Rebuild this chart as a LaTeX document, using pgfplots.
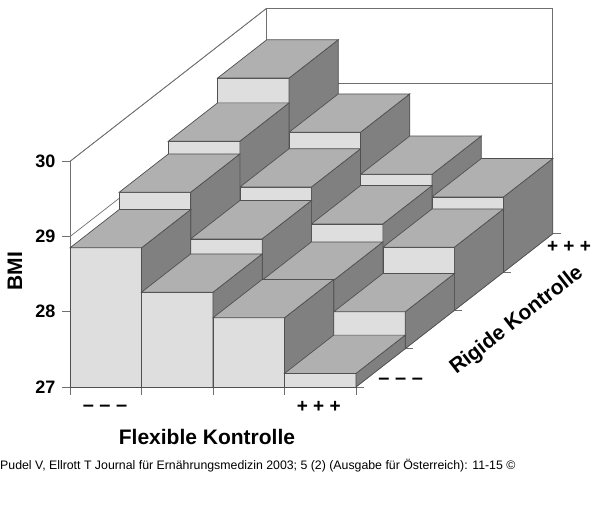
\documentclass[border=0pt]{standalone}
\usepackage{fontspec}
\setmainfont{Liberation Sans}
\usepackage{pgfplots}
\pgfplotsset{compat=1.18}

\definecolor{frontc}{HTML}{DEDEDE}
\definecolor{topc}{HTML}{B0B0B0}
\definecolor{sidec}{HTML}{808080}
\definecolor{edgec}{HTML}{505050}
\definecolor{wallc}{HTML}{707070}

% x0 x1 y0 y1 height
\newcommand{\stufe}[5]{%
  \addplot3[fill=frontc,draw=edgec,line width=0.7pt] coordinates {(#1,#3,27) (#2,#3,27) (#2,#3,#5) (#1,#3,#5)} --cycle;
  \addplot3[fill=sidec,draw=edgec,line width=0.7pt] coordinates {(#2,#3,27) (#2,#4,27) (#2,#4,#5) (#2,#3,#5)} --cycle;
  \addplot3[fill=topc,draw=edgec,line width=0.7pt] coordinates {(#1,#3,#5) (#2,#3,#5) (#2,#4,#5) (#1,#4,#5)} --cycle;
}
% the ticks of the reference are not slanted: they are drawn as short lines
\newcommand{\strich}[2]{\addplot3[wallc,line width=0.7pt] coordinates {#1 #2};}

\begin{document}
\begin{tikzpicture}
\begin{axis}[
    x={(71.5pt,0pt)}, y={(49.2pt,38.3pt)}, z={(0pt,75.2pt)},
    xmin=0, xmax=4, ymin=0, ymax=4, zmin=27, zmax=30,
    xtick={0,1,2,3,4}, ytick={0,1,2,3,4}, ztick={27,28,29,30},
    xticklabels={}, yticklabels={},
    zmajorgrids,
    grid style={wallc,line width=0.7pt},
    axis line style={wallc,line width=0.7pt},
    major tick style={draw=none},
    major tick length=0pt,
    /pgf/number format/assume math mode=true,
    tick label style={font=\fontsize{18}{18}\selectfont\bfseries},
    every z tick label/.append style={anchor=east,xshift=-11pt,yshift=0pt},
    clip=false,
    xlabel={Flexible Kontrolle},
    ylabel={Rigide Kontrolle},
    zlabel={BMI},
    every axis x label/.style={at={(axis cs:1.916,0,26.335)},anchor=center,font=\fontsize{21}{21}\selectfont\bfseries},
    every axis y label/.style={at={(axis cs:6.25,0,27.88)},anchor=center,rotate=38,font=\fontsize{21}{21}\selectfont\bfseries},
    every axis z label/.style={at={(axis cs:-0.77,0,28.54)},anchor=center,rotate=90,font=\fontsize{21}{21}\selectfont\bfseries},
]
\strich{(0,0,27)}{(0,0,26.894)}
\strich{(1,0,27)}{(1,0,26.894)}
\strich{(2,0,27)}{(2,0,26.894)}
\strich{(3,0,27)}{(3,0,26.894)}
\strich{(4,0,27)}{(4,0,26.894)}
\strich{(4,0,27)}{(4.11,0,27)}
\strich{(4,1,27)}{(4.11,1,27)}
\strich{(4,2,27)}{(4.11,2,27)}
\strich{(4,3,27)}{(4.11,3,27)}
\strich{(4,4,27)}{(4.11,4,27)}
\strich{(0,0,27)}{(-0.11,0,27)}
\strich{(0,0,28)}{(-0.11,0,28)}
\strich{(0,0,29)}{(-0.11,0,29)}
\strich{(0,0,30)}{(-0.11,0,30)}

% row at the back first, painted left to right
\stufe{0}{1}{3}{4}{29.58}
\stufe{1}{2}{3}{4}{28.86}
\stufe{2}{3}{3}{4}{28.30}
\stufe{3}{4}{3}{4}{28.00}

\stufe{0}{1}{2}{3}{29.25}
\stufe{1}{2}{2}{3}{28.64}
\stufe{2}{3}{2}{3}{28.15}
\stufe{3}{4}{2}{3}{27.84}

\stufe{0}{1}{1}{2}{29.08}
\stufe{1}{2}{1}{2}{28.46}
\stufe{2}{3}{1}{2}{27.91}
\stufe{3}{4}{1}{2}{27.49}

\stufe{0}{1}{0}{1}{28.85}
\stufe{1}{2}{0}{1}{28.26}
\stufe{2}{3}{0}{1}{27.92}
\stufe{3}{4}{0}{1}{27.18}

\node[font=\fontsize{20}{20}\selectfont\bfseries] at (axis cs:0.49,0,26.72) {– – –};
\node[font=\fontsize{19}{19}\selectfont\bfseries] at (axis cs:3.48,0,26.73) {+ + +};
\node[font=\fontsize{20}{20}\selectfont\bfseries] at (axis cs:4.625,0,27.07) {– – –};
\node[font=\fontsize{19}{19}\selectfont\bfseries] at (axis cs:6.98,0,28.86) {+ + +};
\node[anchor=west,inner sep=0pt,font=\fontsize{12.33}{12.33}\selectfont] at (axis cs:-0.979,0,25.949)
  {Pudel V, Ellrott T Journal für Ernährungsmedizin 2003; 5 (2) (Ausgabe für Österreich): 11-15 ©};

\coordinate (tl) at (axis cs:-0.979,0,32.146);
\coordinate (br) at (axis cs:7.413,0,25.311);
\end{axis}
\path[use as bounding box] (tl) rectangle (br);
\end{tikzpicture}
\end{document}
